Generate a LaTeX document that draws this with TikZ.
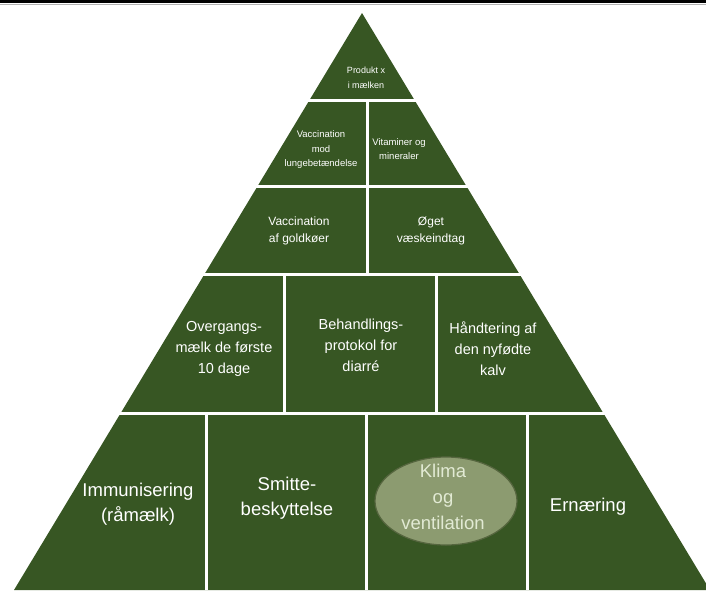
\documentclass[tikz,border=0pt]{standalone}
\usepackage{fontspec}
\setmainfont{Liberation Sans}
\usetikzlibrary{shapes.geometric}
\definecolor{pgreen}{HTML}{375623}
\definecolor{ellfill}{HTML}{8C9B70}
\definecolor{elldraw}{HTML}{56663F}
\definecolor{elltext}{HTML}{E2EAD4}
\begin{document}
\begin{tikzpicture}[x=1pt,y=-1pt,
  sep/.style={white,line width=3pt},
  lbl/.style={text=white,align=center,inner sep=0pt},
  fa/.style={font=\fontsize{9}{15}\selectfont},
  fb/.style={font=\fontsize{9.5}{14.5}\selectfont},
  fc/.style={font=\fontsize{12}{17}\selectfont},
  fd/.style={font=\fontsize{14.5}{21}\selectfont},
  fe/.style={font=\fontsize{18.5}{25}\selectfont}]
\useasboundingbox (0,0) rectangle (706,590);
\begin{scope}
\clip (0,0) rectangle (706,590);
\fill[pgreen] (362,13) -- (14,590) -- (710,590) -- cycle;
\end{scope}
\fill[black] (0,0) rectangle (706,3);
\draw[gray!60,line width=0.6pt] (0,4) -- (706,4);
% horizontal separators
\foreach \n/\y in {a/100,b/186,c/274,d/413}{
  \coordinate (h\n l) at (0,\y);
  \coordinate (h\n r) at (706,\y);
  \draw[sep] (h\n l) -- (h\n r);
}
% vertical separators
\coordinate (v1t) at (367,100); \coordinate (v1b) at (367,186);
\coordinate (v2t) at (367,186); \coordinate (v2b) at (367,274);
\coordinate (v3t) at (284,274); \coordinate (v3b) at (284,413);
\coordinate (v4t) at (436,274); \coordinate (v4b) at (436,413);
\coordinate (v5t) at (206,413); \coordinate (v5b) at (206,590);
\coordinate (v6t) at (366,413); \coordinate (v6b) at (366,590);
\coordinate (v7t) at (527,413); \coordinate (v7b) at (527,590);
\foreach \i in {1,...,7}{\draw[sep] (v\i t) -- (v\i b);}
% labels
\node[lbl,fa] (produkt) at (366,78) {Produkt x\\i mælken};
\node[lbl,fb] (vacclunge) at (321,150) {Vaccination\\mod\\lungebetændelse};
\node[lbl,fb] (vitamin) at (399,149) {Vitaminer og\\mineraler};
\node[lbl,fc] (vaccgold) at (299,230.5) {Vaccination\\af goldkøer};
\node[lbl,fc] (vaeske) at (431,230.5) {Øget\\væskeindtag};
\node[lbl,fd] (overgang) at (224,349) {Overgangs-\\mælk de første\\10 dage};
\node[lbl,fd] (behandl) at (361,345) {Behandlings-\\protokol for\\diarré};
\node[lbl,fd] (haandt) at (493,349) {Håndtering af\\den nyfødte\\kalv};
\node[lbl,fe] (immun) at (138,504.5) {Immunisering\\(råmælk)};
\node[lbl,fe] (smitte) at (287,498) {Smitte-\\beskyttelse};
\node[ellipse,fill=ellfill,draw=elldraw,line width=1.2pt,minimum width=142pt,minimum height=88pt,inner sep=0pt] (ell) at (446,501) {};
\node[lbl,fe,text=elltext,font=\fontsize{18.5}{26}\selectfont] (klima) at (443,497) {Klima\\og\\ventilation};
\node[lbl,fe] (ernaer) at (588,507) {Ernæring};
\end{tikzpicture}
\end{document}
